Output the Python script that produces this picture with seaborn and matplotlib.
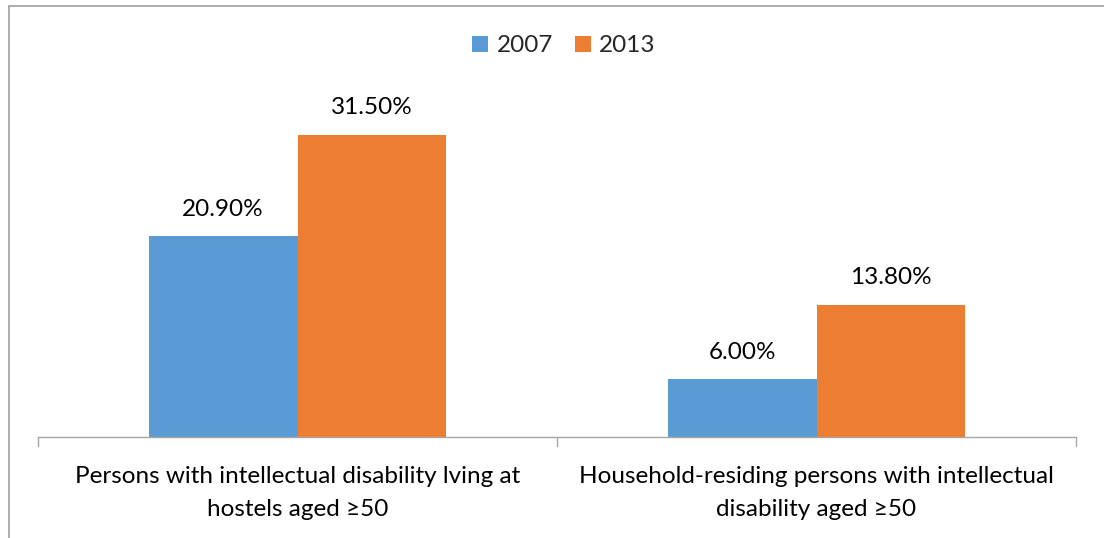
import matplotlib
matplotlib.use("Agg")
import matplotlib.pyplot as plt
import seaborn as sns
import pandas as pd
from matplotlib.lines import Line2D
from matplotlib.patches import Patch

categories = ["Persons with intellectual disability lving at\nhostels aged \u226550",
              "Household-residing persons with intellectual\ndisability aged \u226550"]
years = ["2007", "2013"]
values_2007 = [20.90, 6.00]
values_2013 = [31.50, 13.80]

colors = ["#5B9BD5", "#ED7D31"]

sns.set_theme(style="white")
plt.rcParams['font.family'] = ['Lato', 'DejaVu Sans']

df = pd.DataFrame({
    "category": categories * 2,
    "year": [years[0]] * 2 + [years[1]] * 2,
    "value": values_2007 + values_2013,
})

fig = plt.figure(figsize=(11.04, 5.38), dpi=100)
ax = fig.add_axes([38/1104, 1-437/538, (1076-38)/1104, 336/538])

sns.barplot(data=df, x="category", y="value", hue="year", palette=colors,
            width=0.574, ax=ax, legend=False, saturation=1, errorbar=None,
            linewidth=0)

ax.set_ylim(0, 35)
ax.set_xlim(-0.5, 1.5)
ax.set_xlabel("")
ax.set_ylabel("")
ax.set_yticks([])
for s in ["top", "right", "left"]:
    ax.spines[s].set_visible(False)
ax.spines["bottom"].set_color("#A6A6A6")
ax.spines["bottom"].set_linewidth(1)

ax.set_xticks([0, 1])
ax.set_xticklabels(categories, fontsize=17.5, color="black", linespacing=1.68)
ax.tick_params(axis="x", length=0, pad=21)
for xt in [-0.5, 0.5, 1.5]:
    ax.plot([xt, xt], [0, -0.9], color="#A6A6A6", lw=1, clip_on=False)

for cont in ax.containers:
    labels = [f"{v:.2f}%" for v in cont.datavalues]
    ax.bar_label(cont, labels=labels, padding=12, fontsize=17.5, color="black")

handles = [Patch(facecolor=c, edgecolor="none") for c in colors]
fig.legend(handles, years, loc="center", bbox_to_anchor=(564/1104, 1-46/538),
           ncol=2, frameon=False, fontsize=17.5, handlelength=0.65, handleheight=0.65,
           handletextpad=0.35, columnspacing=0.9)

fig.add_artist(Line2D([9/1104, 9/1104], [0, 1-6/538], transform=fig.transFigure,
                      color="#A0A0A0", lw=1.2))
fig.add_artist(Line2D([9/1104, 1], [1-6/538, 1-6/538], transform=fig.transFigure,
                      color="#A0A0A0", lw=1.2))

fig.savefig("out.png", dpi=100)
